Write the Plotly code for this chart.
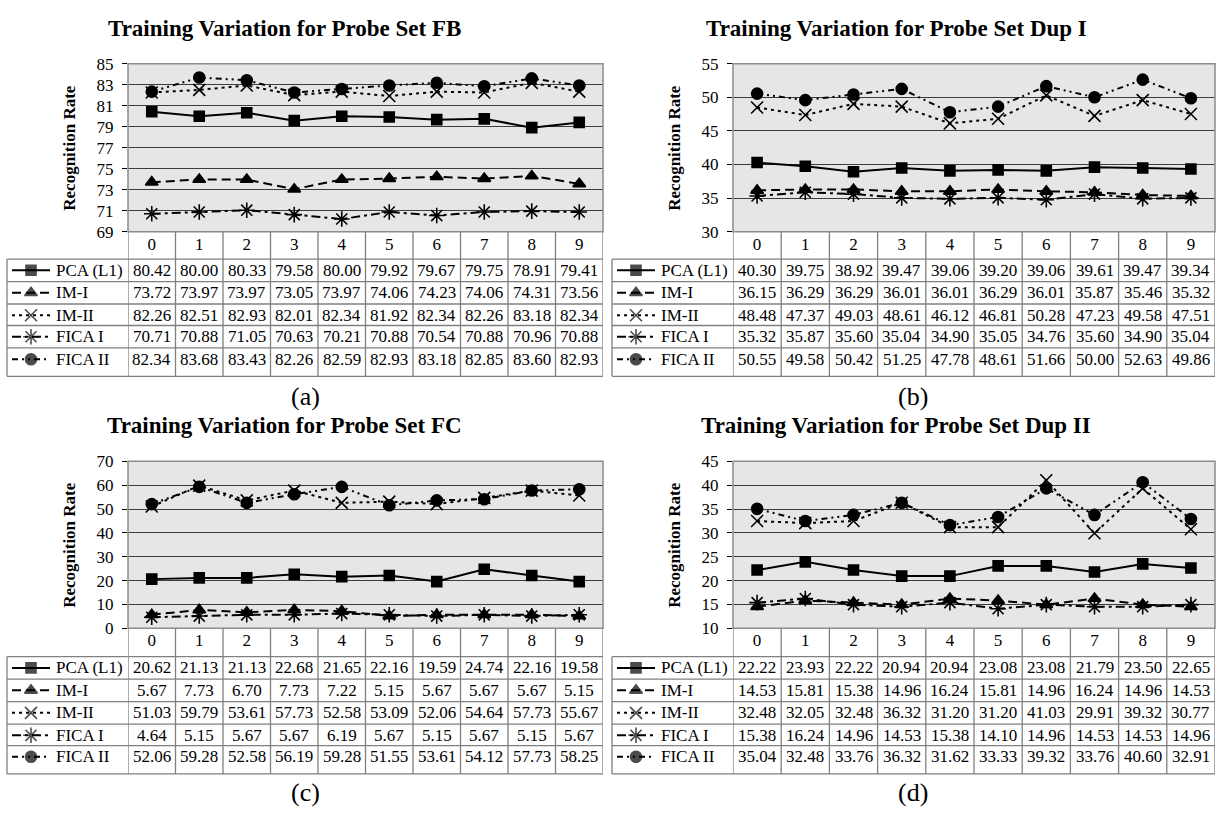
import plotly.graph_objects as go

W, H = 1217, 821

# ---------------- data ----------------
categories = ["0", "1", "2", "3", "4", "5", "6", "7", "8", "9"]
series_names = ["PCA (L1)", "IM-I", "IM-II", "FICA I", "FICA II"]

fb_pca = [80.42, 80.00, 80.33, 79.58, 80.00, 79.92, 79.67, 79.75, 78.91, 79.41]
fb_im1 = [73.72, 73.97, 73.97, 73.05, 73.97, 74.06, 74.23, 74.06, 74.31, 73.56]
fb_im2 = [82.26, 82.51, 82.93, 82.01, 82.34, 81.92, 82.34, 82.26, 83.18, 82.34]
fb_fica1 = [70.71, 70.88, 71.05, 70.63, 70.21, 70.88, 70.54, 70.88, 70.96, 70.88]
fb_fica2 = [82.34, 83.68, 83.43, 82.26, 82.59, 82.93, 83.18, 82.85, 83.60, 82.93]

dup1_pca = [40.30, 39.75, 38.92, 39.47, 39.06, 39.20, 39.06, 39.61, 39.47, 39.34]
dup1_im1 = [36.15, 36.29, 36.29, 36.01, 36.01, 36.29, 36.01, 35.87, 35.46, 35.32]
dup1_im2 = [48.48, 47.37, 49.03, 48.61, 46.12, 46.81, 50.28, 47.23, 49.58, 47.51]
dup1_fica1 = [35.32, 35.87, 35.60, 35.04, 34.90, 35.05, 34.76, 35.60, 34.90, 35.04]
dup1_fica2 = [50.55, 49.58, 50.42, 51.25, 47.78, 48.61, 51.66, 50.00, 52.63, 49.86]

fc_pca = [20.62, 21.13, 21.13, 22.68, 21.65, 22.16, 19.59, 24.74, 22.16, 19.58]
fc_im1 = [5.67, 7.73, 6.70, 7.73, 7.22, 5.15, 5.67, 5.67, 5.67, 5.15]
fc_im2 = [51.03, 59.79, 53.61, 57.73, 52.58, 53.09, 52.06, 54.64, 57.73, 55.67]
fc_fica1 = [4.64, 5.15, 5.67, 5.67, 6.19, 5.67, 5.15, 5.67, 5.15, 5.67]
fc_fica2 = [52.06, 59.28, 52.58, 56.19, 59.28, 51.55, 53.61, 54.12, 57.73, 58.25]

dup2_pca = [22.22, 23.93, 22.22, 20.94, 20.94, 23.08, 23.08, 21.79, 23.50, 22.65]
dup2_im1 = [14.53, 15.81, 15.38, 14.96, 16.24, 15.81, 14.96, 16.24, 14.96, 14.53]
dup2_im2 = [32.48, 32.05, 32.48, 36.32, 31.20, 31.20, 41.03, 29.91, 39.32, 30.77]
dup2_fica1 = [15.38, 16.24, 14.96, 14.53, 15.38, 14.10, 14.96, 14.53, 14.53, 14.96]
dup2_fica2 = [35.04, 32.48, 33.76, 36.32, 31.62, 33.33, 39.32, 33.76, 40.60, 32.91]

titles = ["Training Variation for Probe Set FB", "Training Variation for Probe Set Dup I",
          "Training Variation for Probe Set FC", "Training Variation for Probe Set Dup II"]
captions = ["(a)", "(b)", "(c)", "(d)"]
y_ranges = [[69, 85], [30, 55], [0, 70], [10, 45]]
y_dticks = [2, 5, 10, 5]

panel_data = [
    [fb_pca, fb_im1, fb_im2, fb_fica1, fb_fica2],
    [dup1_pca, dup1_im1, dup1_im2, dup1_fica1, dup1_fica2],
    [fc_pca, fc_im1, fc_im2, fc_fica1, fc_fica2],
    [dup2_pca, dup2_im1, dup2_im2, dup2_fica1, dup2_fica2],
]

# ---------------- styles / layout (pixels) ----------------
FONT = "'Liberation Serif', 'Times New Roman', serif"
styles = [
    dict(dash="solid", symbol="square", size=10),
    dict(dash="9px,5px", symbol="triangle-up", size=11),
    dict(dash="3px,4px", symbol="x-thin-open", size=12),
    dict(dash="9px,4px,3px,4px", symbol="asterisk-open", size=13),
    dict(dash="6px,4px,2px,4px,2px,4px", symbol="circle", size=11),
]

top_rows = [256, 279, 302, 324, 347, 376]
bot_rows = [663, 686, 709, 732, 754, 783]
geoms = [
    dict(x0=128, x1=603, y0=56, y1=228, lab=7, rows=top_rows, tcx=284, tcy=20, ccx=305, ccy=397),
    dict(x0=733, x1=1215, y0=56, y1=228, lab=612, rows=top_rows, tcx=896, tcy=20, ccx=913, ccy=397),
    dict(x0=128, x1=603, y0=463, y1=634, lab=7, rows=bot_rows, tcx=284, tcy=426, ccx=305, ccy=802),
    dict(x0=733, x1=1215, y0=463, y1=634, lab=612, rows=bot_rows, tcx=896, tcy=426, ccx=913, ccy=802),
]


def fx(px):
    return px / W


def fy(py):
    return 1 - py / H


fig = go.Figure()
shapes = []
annotations = []
layout_axes = {}
GRID = "#3c3c3c"
TABLE = "#808080"

for k in range(4):
    g = geoms[k]
    n = k + 1
    m = k + 5
    xa, ya = ("x" if n == 1 else f"x{n}"), ("y" if n == 1 else f"y{n}")
    xm, ym = f"x{m}", f"y{m}"

    # data traces
    for s, vals in enumerate(panel_data[k]):
        st = styles[s]
        fig.add_trace(go.Scatter(
            x=categories, y=vals, xaxis=xa, yaxis=ya, mode="lines+markers",
            name=series_names[s], showlegend=False,
            line=dict(color="black", width=2, dash=st["dash"]),
            marker=dict(symbol=st["symbol"], size=st["size"], color="black",
                        line=dict(color="black", width=1.6)),
        ))

    # axes
    layout_axes["xaxis" if n == 1 else f"xaxis{n}"] = dict(
        domain=[fx(g["x0"]), fx(g["x1"])], anchor=ya, type="category",
        range=[-0.5, 9.5], showgrid=False, zeroline=False, showline=False,
        ticks="", tickfont=dict(family=FONT, size=17, color="black"),
        fixedrange=True,
    )
    layout_axes["yaxis" if n == 1 else f"yaxis{n}"] = dict(
        domain=[fy(g["y1"]), fy(g["y0"])], anchor=xa,
        range=y_ranges[k], tick0=y_ranges[k][0], dtick=y_dticks[k],
        showgrid=True, gridcolor=GRID, gridwidth=1, zeroline=False, showline=False,
        ticks="outside", ticklen=5, tickcolor="black", tickwidth=1,
        ticklabelstandoff=5,
        tickfont=dict(family=FONT, size=17, color="black"),
        fixedrange=True,
    )
    # mini axes for row label samples
    lw = g["x0"] - g["lab"]
    rows = g["rows"]
    layout_axes[f"xaxis{m}"] = dict(domain=[fx(g["lab"]), fx(g["x0"])], anchor=ym,
                                    range=[0, lw], visible=False, fixedrange=True)
    layout_axes[f"yaxis{m}"] = dict(domain=[fy(rows[-1]), fy(rows[0])], anchor=xm,
                                    range=[rows[-1], rows[0]], visible=False, fixedrange=True)

    centers = [rows[i] + 11.5 for i in range(5)]
    for s in range(5):
        st = styles[s]
        fig.add_trace(go.Scatter(
            x=[5, 24, 43], y=[centers[s]] * 3, xaxis=xm, yaxis=ym, mode="lines+markers",
            showlegend=False, hoverinfo="skip",
            line=dict(color="black", width=2, dash=st["dash"]),
            marker=dict(symbol=st["symbol"], size=[0, st["size"], 0], color="black",
                        line=dict(color="black", width=1.6)),
        ))
        annotations.append(dict(
            xref="paper", yref="paper", x=fx(g["lab"] + 47), y=fy(centers[s]),
            xanchor="left", yanchor="middle", text=series_names[s], showarrow=False,
            font=dict(family=FONT, size=17, color="black"),
        ))
        for i, c in enumerate(categories):
            annotations.append(dict(
                xref=xa, yref="paper", x=i, y=fy(centers[s]),
                xanchor="center", yanchor="middle", text=f"{panel_data[k][s][i]:.2f}",
                showarrow=False, font=dict(family=FONT, size=17, color="black"),
            ))

    # plot background and border
    shapes.append(dict(type="rect", xref="paper", yref="paper",
                       x0=fx(g["x0"]), x1=fx(g["x1"]), y0=fy(g["y1"]), y1=fy(g["y0"]),
                       fillcolor="#e6e6e6", line=dict(width=0), layer="below"))
    shapes.append(dict(type="rect", xref="paper", yref="paper",
                       x0=fx(g["x0"]), x1=fx(g["x1"]), y0=fy(g["y1"]), y1=fy(g["y0"]),
                       fillcolor="rgba(0,0,0,0)", line=dict(color="#8c8c8c", width=1.5),
                       layer="above"))
    # table lines
    for r in rows:
        shapes.append(dict(type="line", xref="paper", yref="paper",
                           x0=fx(g["lab"]), x1=fx(g["x1"]), y0=fy(r), y1=fy(r),
                           line=dict(color=TABLE, width=1.3)))
    shapes.append(dict(type="line", xref="paper", yref="paper",
                       x0=fx(g["lab"]), x1=fx(g["lab"]), y0=fy(rows[0]), y1=fy(rows[-1]),
                       line=dict(color=TABLE, width=1.3)))
    for i in range(11):
        shapes.append(dict(type="line", xref=xa, yref="paper",
                           x0=i - 0.5, x1=i - 0.5, y0=fy(g["y1"]), y1=fy(rows[-1]),
                           line=dict(color=TABLE, width=1.3)))

    # titles and captions
    annotations.append(dict(xref="paper", yref="paper", x=fx(g["tcx"]), y=fy(g["tcy"]),
                            xanchor="center", yanchor="middle", text=f"<b>{titles[k]}</b>",
                            showarrow=False, font=dict(family=FONT, size=23, color="black")))
    annotations.append(dict(xref="paper", yref="paper", x=fx(g["x0"] - 58),
                            y=fy((g["y0"] + g["y1"]) / 2), xanchor="center", yanchor="middle",
                            text="<b>Recognition Rate</b>", textangle=-90, showarrow=False,
                            font=dict(family=FONT, size=17, color="black")))
    annotations.append(dict(xref="paper", yref="paper", x=fx(g["ccx"]), y=fy(g["ccy"]),
                            xanchor="center", yanchor="middle", text=captions[k],
                            showarrow=False, font=dict(family=FONT, size=26, color="black")))

fig.update_layout(
    width=W, height=H, autosize=False,
    margin=dict(l=0, r=0, t=0, b=0),
    paper_bgcolor="white", plot_bgcolor="rgba(0,0,0,0)",
    showlegend=False, shapes=shapes, annotations=annotations,
    **layout_axes,
)

fig.write_html(
    "out.html",
    config={"displayModeBar": False},
    post_script="document.body.style.margin='0';document.body.style.overflow='hidden';",
)
